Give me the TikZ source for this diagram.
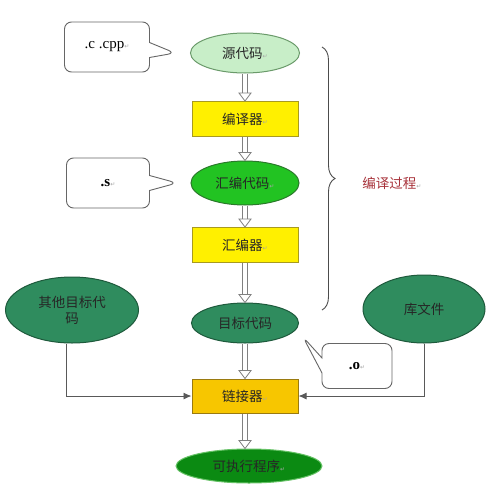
\documentclass[tikz,border=0pt]{standalone}
\usepackage{fontspec}
\setmainfont{Liberation Serif}
\newfontfamily\cjk{Noto Sans CJK SC}
\newfontfamily\dvs{DejaVu Sans}
\usetikzlibrary{shapes.geometric,shapes.callouts,arrows.meta,decorations.pathreplacing,calc}
\definecolor{lgreen}{HTML}{C8EEC8}
\definecolor{lgreenb}{HTML}{6A9A6A}
\definecolor{bgreen}{HTML}{22C322}
\definecolor{bgreenb}{HTML}{2A7A2A}
\definecolor{sgreen}{HTML}{2F8C5E}
\definecolor{sgreenb}{HTML}{1E5A3C}
\definecolor{ybox}{HTML}{FFF000}
\definecolor{yboxb}{HTML}{A89A20}
\definecolor{obox}{HTML}{F7C600}
\definecolor{oboxb}{HTML}{9A7A10}
\definecolor{dgreen}{HTML}{0B8A12}
\definecolor{bracered}{HTML}{A8323A}
\newcommand\retmark{\textcolor{gray!70}{\dvs\fontsize{6}{6}\selectfont ↵}}
\tikzset{
  cn/.style={font=\cjk\fontsize{13.5}{16}\selectfont, text=black!85, align=center},
  ell/.style={cn, ellipse, inner sep=0pt, line width=1pt},
  boxnode/.style={cn, rectangle, draw=yboxb, fill=ybox, line width=1pt, minimum width=106pt, minimum height=35pt},
  shaft/.style={draw=gray, line width=0.8pt, double=white, double distance=4pt},
  ahead/.style={draw=gray, line width=0.8pt, fill=white, line join=miter},
  feed/.style={draw=gray!70!black, line width=0.9pt, -{Latex[length=8pt,width=7pt]}},
  callbox/.style={rectangle callout, draw=gray!80!black, fill=white, line width=0.9pt, rounded corners=7pt, callout pointer width=15pt, font=\fontsize{15}{17}\selectfont}
}
\newcommand\dblarrow[2]{%
  \draw[shaft] (#1) -- ($(#2)+(0,-7)$);
  \draw[ahead] ($(#2)+(-6,-8)$) -- ($(#2)+(6,-8)$) -- (#2) -- cycle;}
\begin{document}
\begin{tikzpicture}[x=1pt,y=-1pt]
\useasboundingbox (0,0) rectangle (503,504);
\fill[white] (0,0) rectangle (503,504);

% main column
\node[ell, draw=lgreenb, fill=lgreen, minimum width=109pt, minimum height=40pt] (src) at (245,53) {源代码\retmark};
\node[boxnode] (comp) at (245,119) {编译器\retmark};
\node[ell, draw=bgreenb, fill=bgreen, minimum width=108pt, minimum height=44pt] (asm) at (245,183) {汇编代码\retmark};
\node[boxnode] (asmb) at (245,245) {汇编器\retmark};
\node[ell, draw=sgreenb, fill=sgreen, minimum width=107pt, minimum height=40pt] (obj) at (245,323) {目标代码};
\node[boxnode, draw=oboxb, fill=obox, minimum height=34pt] (link) at (245,396) {链接器\retmark};
\node[ell, draw=green!60!black!60, fill=dgreen, minimum width=146pt, minimum height=34pt] (exe) at (249,466) {可执行程序\retmark};

% side nodes
\node[ell, draw=sgreenb, fill=sgreen, minimum width=133pt, minimum height=66pt] (other) at (72,310) {其他目标代\\码};
\node[ell, draw=sgreenb, fill=sgreen, minimum width=122pt, minimum height=68pt] (lib) at (424,309) {库文件};

% double arrows
\coordinate (exetop) at ($(exe.north)+(-4,0)$);
\dblarrow{src.south}{comp.north}
\dblarrow{comp.south}{asm.north}
\dblarrow{asm.south}{asmb.north}
\dblarrow{asmb.south}{obj.north}
\dblarrow{obj.south}{link.north}
\dblarrow{link.south}{exetop}

% feeds into linker
\draw[feed] ([xshift=-6pt]other.south) |- (link.west);
\draw[feed] (lib.south) |- (link.east);

% brace
\coordinate (braceTop) at (322,47);
\coordinate (braceBot) at (322,310);
\draw[gray!60!black, line width=0.9pt, decorate, decoration={brace, amplitude=13pt}] (braceTop) -- (braceBot);
\node[cn, text=bracered] (proc) at (392,183) {编译过程\retmark};

% callouts
\coordinate (ptc) at (175,53);
\coordinate (pts) at (177,183);
\coordinate (pto) at (303,337);
\node[callbox, minimum width=85pt, minimum height=50pt, callout absolute pointer={(ptc)}] (cc) at (107,47) {.c .cpp\retmark};
\node[callbox, minimum width=83pt, minimum height=50pt, callout absolute pointer={(pts)}] (cs) at (108,183) {\textbf{.s}\retmark};
\node[callbox, minimum width=70pt, minimum height=45pt, callout absolute pointer={(pto)}] (co) at (357,366) {\textbf{.o}\retmark};
\end{tikzpicture}
\end{document}
